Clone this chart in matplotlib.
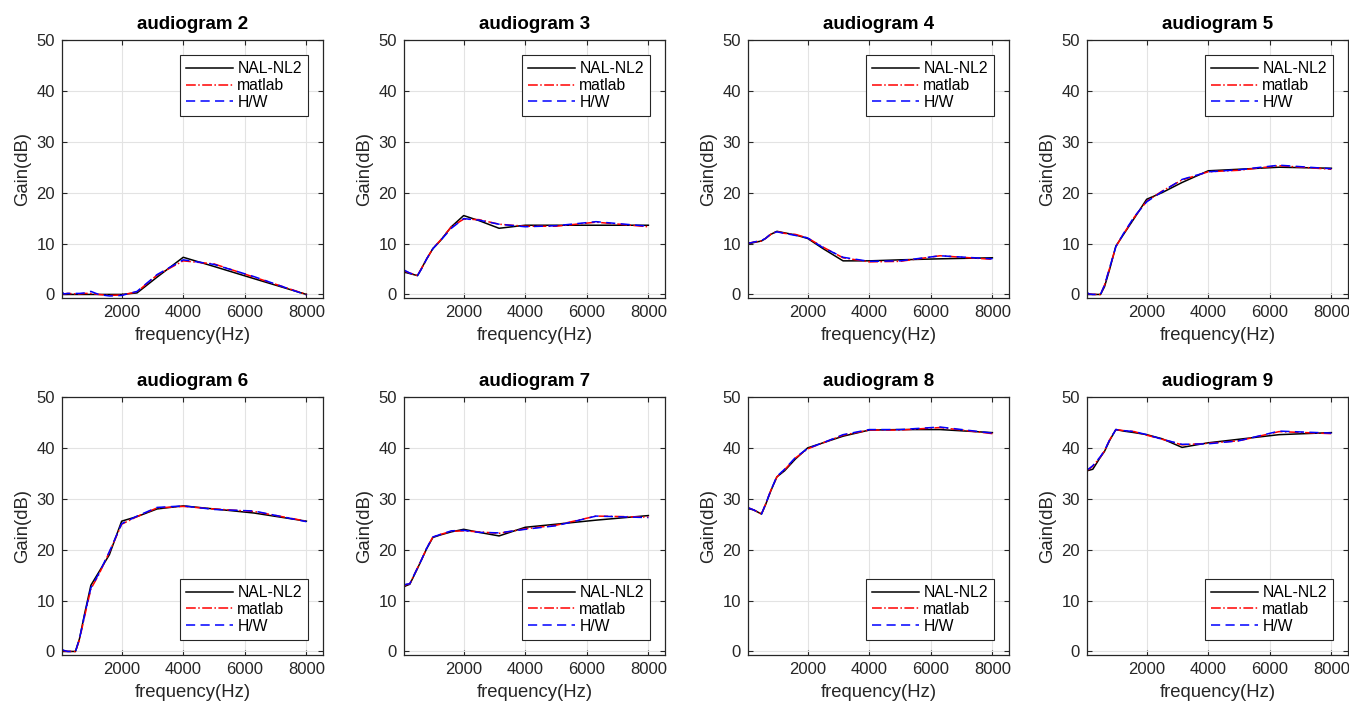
import matplotlib
matplotlib.use("Agg")
import matplotlib.pyplot as plt

plt.rcParams['font.family'] = ['Liberation Sans', 'DejaVu Sans']

# frequencies (Hz) shared by all curves
freq = [63, 125, 250, 500, 630, 800, 1000, 1250, 1600, 2000, 2500, 3150, 4000, 5000, 6300, 8000]

titles = ["audiogram 2", "audiogram 3", "audiogram 4", "audiogram 5",
          "audiogram 6", "audiogram 7", "audiogram 8", "audiogram 9"]

nal2 = [0, 0, 0, 0, 0, 0, 0, 0, 0, 0, 0.3, 3.4, 7.3, 5.5, 3.1, 0]
mat2 = [0.3, 0.1, 0.2, 0.1, 0.1, 0.2, 0.2, 0, -0.2, -0.1, 0.5, 3.8, 6.6, 6.0, 3.4, 0]
hw2 = [0.5, 0.1, 0.2, 0.2, 0.2, 0.3, 0.6, 0, -0.3, -0.2, 0.6, 3.9, 6.8, 5.9, 3.5, -0.1]

nal3 = [4.3, 4.3, 4.1, 3.7, 5.1, 7.0, 9.0, 10.6, 13.3, 15.5, 14.5, 13.0, 13.6, 13.6, 13.6, 13.6]
mat3 = [4.6, 4.5, 4.2, 3.7, 5.1, 7.0, 9.0, 10.7, 13.3, 14.8, 14.7, 13.8, 13.4, 13.4, 14.2, 13.3]
hw3 = [4.8, 4.6, 4.2, 3.7, 5.0, 7.0, 9.0, 10.6, 13.0, 14.9, 14.6, 13.8, 13.3, 13.5, 14.3, 13.4]

nal4 = [10.0, 10.0, 10.2, 10.5, 11.0, 11.8, 12.4, 12.1, 11.7, 11.0, 9.0, 6.6, 6.6, 6.8, 7.0, 7.2]
mat4 = [10.1, 10.1, 10.3, 10.5, 11.0, 11.8, 12.4, 12.0, 11.8, 11.1, 9.3, 7.2, 6.4, 6.5, 7.6, 6.9]
hw4 = [10.2, 10.1, 10.3, 10.6, 11.0, 11.9, 12.3, 12.0, 11.6, 11.1, 9.2, 7.3, 6.5, 6.6, 7.6, 7.0]

nal5 = [0, 0, 0, 0, 1.5, 5.0, 9.5, 11.8, 15.0, 18.7, 20.0, 22.0, 24.3, 24.6, 25.0, 24.8]
mat5 = [0.3, 0.1, 0, 0, 1.8, 5.2, 9.4, 11.9, 15.2, 18.3, 20.3, 22.5, 24.1, 24.4, 25.3, 24.6]
hw5 = [0.4, 0.1, 0, 0, 1.8, 5.3, 9.4, 12.0, 15.3, 18.2, 20.2, 22.6, 24.1, 24.5, 25.4, 24.7]

nal6 = [0, 0, 0, 0, 2.5, 7.5, 13.0, 15.5, 19.0, 25.6, 26.5, 28.0, 28.6, 28.0, 27.2, 25.6]
mat6 = [0.3, 0.1, 0, 0, 2.3, 7.0, 12.3, 15.0, 19.5, 25.0, 26.5, 28.2, 28.5, 28.0, 27.5, 25.6]
hw6 = [0.4, 0.2, 0, 0, 2.5, 7.3, 12.5, 15.2, 19.6, 25.1, 26.6, 28.3, 28.6, 27.9, 27.6, 25.5]

nal7 = [12.7, 12.9, 13.2, 16.3, 18.0, 20.2, 22.4, 22.9, 23.5, 24.0, 23.4, 22.7, 24.4, 25.0, 25.8, 26.7]
mat7 = [12.8, 13.1, 13.3, 16.4, 18.0, 20.3, 22.5, 23.0, 23.6, 23.7, 23.5, 23.2, 24.1, 24.8, 26.6, 26.4]
hw7 = [12.9, 13.2, 13.3, 16.4, 18.0, 20.3, 22.5, 23.0, 23.7, 23.8, 23.4, 23.3, 24.0, 24.7, 26.6, 26.3]

nal8 = [28.0, 28.0, 27.8, 27.0, 28.8, 31.5, 34.3, 35.5, 37.8, 40.0, 41.0, 42.3, 43.5, 43.6, 43.6, 43.0]
mat8 = [28.2, 28.1, 27.8, 27.0, 28.9, 31.6, 34.3, 35.7, 38.0, 39.8, 41.0, 42.5, 43.5, 43.5, 44.0, 42.8]
hw8 = [28.3, 28.1, 27.8, 27.0, 28.9, 31.6, 34.4, 35.8, 38.1, 39.9, 41.0, 42.6, 43.6, 43.6, 44.1, 42.9]

nal9 = [35.5, 35.6, 35.8, 38.2, 39.3, 41.5, 43.6, 43.3, 43.0, 42.6, 41.8, 40.1, 41.0, 41.7, 42.6, 43.0]
mat9 = [35.6, 35.8, 36.4, 38.2, 39.4, 41.6, 43.6, 43.4, 43.2, 42.5, 41.7, 40.6, 40.9, 41.4, 43.2, 42.8]
hw9 = [35.7, 35.9, 36.5, 38.3, 39.5, 41.6, 43.6, 43.4, 43.2, 42.6, 41.7, 40.7, 40.8, 41.4, 43.3, 42.9]

nal = [nal2, nal3, nal4, nal5, nal6, nal7, nal8, nal9]
mat = [mat2, mat3, mat4, mat5, mat6, mat7, mat8, mat9]
hw = [hw2, hw3, hw4, hw5, hw6, hw7, hw8, hw9]

W, H = 1349, 705
fig = plt.figure(figsize=(W / 100, H / 100), dpi=100)

lefts = [62, 404, 748, 1087]
tops = [40, 397]
axw, axh = 261, 258
dark = '#262626'

for i in range(8):
    r, c = divmod(i, 4)
    ax = fig.add_axes([lefts[c] / W, (H - tops[r] - axh) / H, axw / W, axh / H])
    ax.plot(freq, nal[i], color='black', lw=1.1, label='NAL-NL2')
    ax.plot(freq, mat[i], color='red', lw=1.1, ls='-.', label='matlab')
    ax.plot(freq, hw[i], color='blue', lw=1.1, ls='--', dashes=(6, 3.5), label='H/W')
    ax.set_xlim(62, 8540)
    ax.set_ylim(-0.7, 50)
    ax.set_xticks([2000, 4000, 6000, 8000])
    ax.set_yticks([0, 10, 20, 30, 40, 50])
    ax.grid(True, color='#e3e3e3', lw=0.8)
    ax.set_axisbelow(True)
    for s in ax.spines.values():
        s.set_color(dark)
        s.set_linewidth(0.9)
    ax.tick_params(direction='in', top=True, right=True, length=3.5, width=0.8,
                   color=dark, labelcolor=dark, labelsize=12, pad=5)
    ax.set_title(titles[i], fontsize=13.5, fontweight='bold', pad=8)
    ax.set_xlabel('frequency(Hz)', fontsize=13.3, color=dark, labelpad=5)
    ax.set_ylabel('Gain(dB)', fontsize=13.3, color=dark, labelpad=4)
    leg = ax.legend(loc='upper right' if r == 0 else 'lower right', fontsize=11.3,
                    fancybox=False, framealpha=1, edgecolor=dark, borderaxespad=0.95,
                    handlelength=3.0, handletextpad=0.25, labelspacing=0.12,
                    borderpad=0.4)
    leg.get_frame().set_linewidth(0.8)

fig.savefig('out.png', dpi=100)
